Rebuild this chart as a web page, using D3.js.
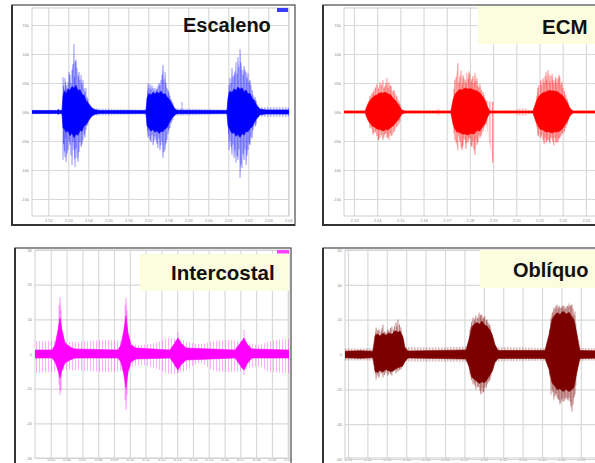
<!DOCTYPE html>
<html>
<head>
<meta charset="utf-8">
<script src="https://cdn.jsdelivr.net/npm/d3@7"></script>
<style>
  body { margin: 0; background: #fff; }
  svg { display: block; }
</style>
</head>
<body>
<svg width="595" height="463"></svg>
<script>
// envelope rows: [time, core top, core bottom]; spike rows: [time, top, bottom]

const escalenoYTicks = [15, 10, 5, 0, -5, -10, -15];
const escalenoYLabels = ['15k', '10k', '05k', '00k', '-05k', '-10k', '-15k'];
const escalenoXLabels = ['1:52', '1:53', '1:54', '1:55', '1:56', '1:57', '1:58', '1:59', '2:00', '2:01', '2:02', '2:03', '2:04'];
const escalenoEnvelope = [
    [0.00, 0.24, -0.24], [1.25, 0.24, -0.24], [1.32, 0.45, -0.40], [1.40, 0.24, -0.24], [1.50, 0.30, -0.30],
    [1.55, 2.76, -2.76], [1.62, 3.60, -2.90], [1.70, 3.10, -3.50], [1.80, 4.00, -3.20], [1.90, 3.70, -4.10],
    [2.00, 4.40, -3.60], [2.10, 4.10, -4.40], [2.20, 4.60, -3.80], [2.30, 3.60, -4.00], [2.40, 3.90, -3.20],
    [2.50, 3.00, -3.30], [2.60, 2.90, -2.40], [2.70, 2.00, -2.20], [2.85, 1.38, -1.38], [3.00, 0.69, -0.69],
    [3.15, 0.40, -0.40], [3.40, 0.26, -0.26], [5.65, 0.24, -0.24], [5.70, 0.30, -0.30],
    [5.75, 2.41, -2.41], [5.85, 3.20, -2.80], [5.95, 2.90, -3.30], [6.05, 3.40, -3.00], [6.15, 3.10, -3.50],
    [6.25, 3.50, -3.20], [6.35, 3.20, -3.70], [6.45, 3.60, -3.30], [6.55, 3.00, -3.40], [6.65, 3.20, -2.90],
    [6.75, 2.60, -2.70], [6.85, 2.30, -1.90], [7.00, 1.38, -1.03], [7.15, 0.52, -0.52], [7.25, 0.30, -0.30],
    [9.70, 0.26, -0.26], [9.75, 0.30, -0.30], [9.80, 2.41, -2.41], [9.90, 3.60, -3.10], [10.00, 3.30, -3.70],
    [10.10, 4.00, -3.50], [10.20, 3.70, -4.20], [10.30, 4.30, -3.80], [10.40, 3.90, -4.40], [10.50, 4.20, -3.70],
    [10.60, 3.50, -4.00], [10.70, 3.80, -3.30], [10.80, 3.10, -3.40], [10.90, 3.20, -2.80], [11.00, 2.40, -2.60],
    [11.10, 2.10, -1.90], [11.25, 1.03, -1.03], [11.40, 0.50, -0.48], [11.70, 0.36, -0.34], [12.85, 0.36, -0.36]
];
const escalenoNoise = [
    [0.00, 0.38, -0.38], [1.50, 0.38, -0.38], [3.20, 0.60, -0.60], [5.60, 0.45, -0.45], [7.30, 0.60, -0.60],
    [9.70, 0.45, -0.45], [11.40, 0.80, -0.80], [12.85, 0.80, -0.80]
];
const escalenoSpikes = [
    [1.55, 6.03, -8.28], [1.58, 4.50, -5.50], [1.62, 3.80, -6.80], [1.65, 5.86, -7.76], [1.68, 5.20, -4.60],
    [1.70, 4.66, -8.62], [1.75, 4.00, -7.20], [1.80, 5.17, -6.55], [1.85, 6.90, -5.00], [1.90, 6.38, -5.69],
    [1.95, 5.00, -7.50], [2.00, 7.24, -9.14], [2.05, 8.30, -5.20], [2.10, 11.72, -6.55], [2.12, 6.00, -8.00],
    [2.15, 8.62, -9.48], [2.20, 9.00, -6.20], [2.25, 7.59, -7.93], [2.30, 6.20, -8.60], [2.35, 6.90, -6.90],
    [2.40, 5.50, -5.20], [2.45, 6.38, -6.03], [2.50, 4.80, -5.60], [2.55, 5.52, -4.83], [2.60, 4.20, -3.80],
    [2.65, 3.40, -4.40], [2.70, 4.14, -3.10], [2.75, 2.60, -2.40], [2.80, 2.20, -2.00],
    [5.78, 3.60, -3.30], [5.80, 5.00, -4.48], [5.85, 4.20, -4.10], [5.90, 4.83, -4.83], [5.95, 3.90, -5.20],
    [6.00, 4.60, -4.00], [6.05, 4.14, -5.69], [6.10, 3.60, -5.00], [6.15, 4.20, -4.20], [6.20, 3.79, -4.83],
    [6.25, 4.00, -5.50], [6.30, 4.48, -6.21], [6.35, 5.00, -4.60], [6.40, 4.60, -6.60], [6.45, 5.52, -5.69],
    [6.50, 6.40, -5.00], [6.55, 8.10, -7.93], [6.60, 5.60, -6.90], [6.65, 6.90, -6.55], [6.70, 5.00, -5.40],
    [6.75, 4.14, -4.83], [6.80, 3.80, -3.80], [6.85, 3.30, -3.00], [6.90, 2.76, -2.76], [6.95, 2.20, -2.00],
    [7.05, 1.60, -1.40],
    [7.50, 1.72, -0.40],
    [9.82, 3.40, -3.80], [9.85, 4.66, -6.55], [9.90, 5.90, -5.00], [9.95, 5.00, -6.00], [10.00, 7.59, -7.41],
    [10.05, 6.00, -5.60], [10.10, 6.38, -7.93], [10.15, 7.00, -6.60], [10.20, 8.62, -8.79], [10.25, 6.60, -7.60],
    [10.30, 9.48, -8.28], [10.35, 7.80, -6.40], [10.40, 10.86, -11.38], [10.45, 8.50, -9.00], [10.50, 7.24, -9.66],
    [10.55, 6.40, -7.20], [10.60, 7.93, -8.28], [10.65, 7.20, -6.40], [10.70, 6.90, -9.14], [10.75, 5.80, -7.50],
    [10.80, 6.72, -6.55], [10.85, 5.20, -5.40], [10.90, 5.52, -5.69], [10.95, 4.60, -4.30], [11.00, 3.80, -4.60],
    [11.05, 2.93, -3.10], [11.15, 2.60, -2.50], [11.20, 2.00, -2.20], [11.30, 1.30, -1.20]
];

const ecmYTicks = [15, 10, 5, 0, -5, -10, -15];
const ecmYLabels = ['15k', '10k', '05k', '00k', '-05k', '-10k', '-15k'];
const ecmXLabels = ['2:13', '2:14', '2:15', '2:16', '2:17', '2:18', '2:19', '2:20', '2:21', '2:22', '2:23'];
const ecmEnvelope = [
    [0.00, 0.17, -0.17], [0.91, 0.17, -0.17], [1.03, 1.38, -1.38], [1.12, 2.00, -1.90], [1.21, 2.41, -2.41],
    [1.32, 2.80, -2.60], [1.42, 2.93, -2.93], [1.55, 3.30, -3.00], [1.68, 3.28, -3.28], [1.80, 3.40, -3.00],
    [1.90, 3.10, -3.10], [2.00, 3.00, -2.70], [2.11, 2.41, -2.41], [2.22, 2.00, -1.90], [2.33, 1.38, -1.38],
    [2.50, 0.34, -0.34], [2.63, 0.17, -0.17],
    [4.61, 0.17, -0.17], [4.70, 2.07, -2.07], [4.78, 3.00, -2.90], [4.87, 3.45, -3.45], [4.98, 3.90, -3.50],
    [5.09, 3.79, -3.79], [5.20, 4.10, -3.80], [5.34, 3.97, -3.97], [5.47, 4.00, -3.70], [5.60, 3.79, -3.79],
    [5.73, 3.60, -3.20], [5.86, 3.28, -3.28], [5.97, 2.70, -2.60], [6.08, 2.07, -2.07], [6.21, 0.69, -0.69],
    [6.29, 0.17, -0.17],
    [8.15, 0.17, -0.17], [8.28, 1.72, -1.72], [8.36, 2.40, -2.30], [8.45, 2.93, -2.93], [8.58, 3.30, -3.10],
    [8.71, 3.45, -3.45], [8.84, 3.70, -3.40], [8.97, 3.62, -3.62], [9.10, 3.60, -3.40], [9.22, 3.45, -3.45],
    [9.33, 3.10, -3.20], [9.44, 2.76, -2.76], [9.53, 2.30, -2.20], [9.61, 1.72, -1.72], [9.74, 0.69, -0.69],
    [9.87, 0.17, -0.17], [11.47, 0.17, -0.17]
];
const ecmNoise = [
    [0.00, 0.30, -0.30], [3.95, 0.30, -0.30], [4.05, 0.70, -0.70], [4.15, 0.30, -0.30], [7.35, 0.30, -0.30],
    [7.50, 0.60, -0.60], [7.85, 0.60, -0.60], [8.00, 0.30, -0.30], [11.47, 0.30, -0.30]
];
const ecmSpikes = [
    [1.08, 1.90, -1.80], [1.12, 2.76, -2.76], [1.18, 3.10, -2.90], [1.25, 3.40, -3.90], [1.29, 3.79, -3.62],
    [1.35, 4.20, -3.40], [1.42, 4.83, -4.14], [1.48, 4.00, -4.90], [1.55, 5.17, -4.48], [1.60, 4.60, -3.90],
    [1.68, 5.52, -4.83], [1.72, 4.10, -4.40], [1.77, 4.48, -3.79], [1.81, 5.00, -3.70], [1.85, 5.86, -4.48],
    [1.90, 4.10, -4.30], [1.94, 5.17, -4.83], [1.98, 4.60, -3.60], [2.03, 4.48, -4.14], [2.08, 3.60, -4.00],
    [2.16, 3.79, -3.45], [2.20, 3.20, -3.00], [2.28, 2.76, -2.59], [2.36, 2.00, -2.20], [2.42, 1.40, -1.60],
    [4.74, 4.00, -3.60], [4.78, 5.52, -4.83], [4.83, 6.00, -5.30], [4.91, 8.45, -6.55], [4.95, 5.00, -4.10],
    [5.00, 6.21, -5.17], [5.05, 7.20, -6.20], [5.09, 4.80, -6.60], [5.13, 6.38, -5.86], [5.17, 5.90, -4.60],
    [5.22, 5.52, -4.83], [5.26, 4.90, -6.40], [5.30, 6.72, -5.34], [5.35, 5.70, -5.20], [5.39, 7.00, -4.60],
    [5.43, 6.55, -4.48], [5.47, 5.20, -5.80], [5.52, 5.69, -6.03], [5.56, 6.20, -5.00], [5.60, 4.90, -6.40],
    [5.65, 6.72, -7.41], [5.69, 5.30, -4.80], [5.73, 5.86, -5.69], [5.78, 4.50, -5.20], [5.82, 4.20, -4.00],
    [5.86, 4.83, -4.48], [5.92, 3.80, -4.00], [5.99, 3.45, -3.45], [6.04, 2.90, -2.70], [6.12, 2.00, -2.00],
    [6.42, 1.72, -8.79],
    [8.31, 2.80, -2.60], [8.36, 4.14, -3.97], [8.40, 4.60, -4.20], [8.49, 5.52, -4.48], [8.53, 4.60, -4.00],
    [8.58, 5.86, -4.83], [8.63, 5.00, -5.60], [8.67, 6.20, -4.40], [8.71, 6.90, -5.34], [8.75, 5.40, -4.90],
    [8.79, 7.24, -4.83], [8.84, 6.50, -5.00], [8.88, 5.00, -5.40], [8.92, 6.21, -4.48], [8.97, 6.60, -4.60],
    [9.01, 5.52, -5.17], [9.05, 4.90, -5.80], [9.10, 5.60, -4.40], [9.14, 6.03, -5.34], [9.18, 4.90, -5.00],
    [9.22, 5.69, -5.34], [9.27, 6.40, -4.60], [9.31, 6.03, -4.48], [9.35, 4.70, -4.20], [9.40, 5.20, -3.60],
    [9.44, 4.14, -3.79], [9.50, 3.60, -3.40], [9.57, 2.93, -2.76], [9.62, 2.30, -2.20], [9.68, 1.60, -1.50]
];

const intercostalYTicks = [30, 20, 10, 0, -10, -20, -30];
const intercostalYLabels = ['30', '20', '10', '0', '-10', '-20', '-30'];
const intercostalXLabels = ['0:05', '0:06', '0:07', '0:08', '0:09', '0:10', '0:11', '0:12', '0:13', '0:14', '0:15', '0:16', '0:17', '0:18', '0:19', '0:20'];
const intercostalEnvelope = [
    [0.00, 1.15, -1.15], [1.08, 1.15, -1.15], [1.27, 2.59, -2.31], [1.46, 6.92, -4.61], [1.58, 10.37, -6.92],
    [1.71, 6.92, -4.61], [1.90, 3.17, -2.59], [2.22, 2.02, -1.73], [2.53, 1.44, -1.15], [5.25, 1.15, -1.15],
    [5.44, 2.59, -2.31], [5.63, 6.92, -6.05], [5.76, 10.95, -9.80], [5.89, 6.05, -5.19], [6.08, 2.59, -2.31],
    [6.39, 1.73, -1.44], [8.54, 1.15, -1.15], [8.73, 2.31, -2.31], [8.92, 3.75, -3.75], [9.05, 4.61, -4.61],
    [9.24, 3.17, -3.17], [9.56, 1.73, -1.73], [12.66, 1.15, -1.15], [12.85, 2.31, -2.31], [13.10, 3.75, -4.03],
    [13.23, 4.61, -4.61], [13.42, 2.88, -2.88], [13.73, 1.44, -1.15], [16.08, 1.15, -1.15]
];
// faint periodic artifact band around the baseline
const intercostalArtifact = [
    [0.00, 3.75, -5.48], [0.95, 3.75, -5.19], [2.22, 3.46, -4.61], [3.48, 3.75, -4.90], [4.75, 4.03, -5.19],
    [5.70, 3.46, -4.61], [6.65, 2.59, -3.17], [7.59, 3.17, -4.03], [8.54, 4.61, -5.76], [9.49, 3.75, -4.90],
    [10.44, 2.88, -2.59], [11.39, 3.75, -4.90], [12.34, 4.03, -5.19], [13.29, 3.46, -4.61], [14.11, 2.59, -3.46],
    [14.87, 3.75, -5.19], [16.08, 4.32, -5.48]
];
const intercostalSpikes = [
    [1.52, 14.12, -8.93], [1.58, 16.43, -11.82], [1.65, 12.68, -10.37],
    [5.70, 14.12, -13.26], [5.76, 16.14, -16.14], [5.82, 12.68, -11.82],
    [9.05, 6.34, -5.48], [13.23, 6.92, -6.05]
];

const obliquoYTicks = [60, 40, 20, 0, -20, -40, -60];
const obliquoYLabels = ['60', '40', '20', '0', '-20', '-40', '-60'];
const obliquoXLabels = ['0:31', '0:32', '0:33', '0:34', '0:35', '0:36', '0:37', '0:38', '0:39', '0:40', '0:41', '0:42', '0:43'];
const obliquoEnvelope = [
    [0.00, 1.9, -1.9], [0.77, 2.2, -2.2], [1.44, 1.9, -1.9], [1.55, 10.9, -9.8], [1.68, 11.8, -10.4],
    [1.80, 10.6, -9.2], [1.96, 12.2, -10.0], [2.11, 11.0, -8.6], [2.25, 12.4, -9.4], [2.42, 11.6, -9.8],
    [2.58, 13.6, -8.4], [2.73, 12.8, -7.5], [2.85, 13.4, -7.2], [2.99, 9.8, -6.3], [3.09, 4.0, -4.0],
    [3.25, 2.0, -2.0], [4.90, 2.3, -2.3], [6.24, 2.6, -2.6], [6.39, 8.6, -6.9], [6.55, 16.0, -13.2],
    [6.68, 17.6, -14.2], [6.80, 18.4, -15.5], [6.93, 17.4, -16.6], [7.06, 19.2, -15.6], [7.19, 17.0, -16.2],
    [7.32, 16.4, -14.4], [7.45, 14.2, -12.0], [7.58, 11.6, -9.8], [7.73, 5.7, -4.6], [7.89, 2.3, -2.3],
    [10.31, 2.3, -2.3], [10.52, 11.5, -8.6], [10.67, 20.0, -16.1], [10.80, 22.4, -18.0], [10.93, 24.0, -20.1],
    [11.08, 23.0, -19.6], [11.24, 24.8, -21.3], [11.40, 23.2, -20.0], [11.55, 24.2, -21.3], [11.68, 22.0, -20.2],
    [11.80, 20.0, -19.0], [11.96, 11.5, -9.8], [12.11, 2.3, -2.3], [13.66, 1.9, -1.9]
];
const obliquoNoise = [
    [0.00, 3.4, -3.4], [1.40, 3.6, -3.4], [3.20, 4.2, -4.0], [4.90, 4.0, -4.0], [6.30, 4.4, -4.2],
    [7.90, 4.2, -4.0], [10.30, 3.8, -3.6], [12.20, 3.8, -3.6], [13.66, 3.4, -3.4]
];
const obliquoSpikes = [
    [1.58, 12.5, -11.0], [1.60, 15.5, -14.4], [1.68, 13.8, -12.0], [1.75, 14.4, -13.2], [1.85, 13.0, -11.0],
    [1.90, 15.0, -10.5], [1.96, 17.2, -13.2], [2.02, 13.2, -11.8], [2.11, 12.8, -10.6], [2.22, 14.4, -12.1],
    [2.30, 13.5, -10.3], [2.35, 15.2, -11.3], [2.42, 16.1, -12.1], [2.50, 14.0, -9.6], [2.55, 16.5, -9.3],
    [2.63, 18.4, -10.9], [2.68, 15.6, -8.8], [2.73, 20.1, -9.8], [2.80, 17.2, -8.9], [2.89, 15.5, -8.6],
    [2.95, 11.2, -7.4], [3.02, 8.0, -5.6],
    [6.44, 14.4, -11.5], [6.48, 16.0, -12.8], [6.52, 18.5, -14.4], [6.60, 21.3, -17.2], [6.65, 19.2, -16.0],
    [6.70, 20.7, -18.0], [6.75, 22.4, -20.1], [6.85, 21.0, -18.4], [6.91, 24.1, -19.0], [6.96, 22.3, -21.0],
    [7.01, 23.0, -23.0], [7.06, 22.5, -19.5], [7.11, 20.6, -22.0], [7.16, 21.3, -21.3], [7.21, 22.0, -18.5],
    [7.27, 19.5, -19.4], [7.32, 20.1, -17.2], [7.37, 18.4, -16.0], [7.42, 17.5, -15.6], [7.47, 16.7, -14.4],
    [7.52, 14.8, -12.6], [7.62, 10.0, -9.0],
    [10.56, 14.5, -12.5], [10.62, 21.3, -23.0], [10.67, 23.5, -20.0], [10.72, 24.6, -21.8], [10.77, 27.0, -25.9],
    [10.82, 26.1, -23.8], [10.88, 27.8, -22.5], [10.93, 28.7, -24.7], [10.98, 26.4, -25.6], [11.03, 28.0, -26.2],
    [11.08, 27.0, -28.7], [11.13, 26.6, -27.6], [11.19, 27.5, -25.2], [11.24, 28.2, -27.0], [11.29, 27.8, -26.8],
    [11.34, 26.0, -24.5], [11.39, 27.0, -25.9], [11.44, 28.0, -25.0], [11.50, 27.4, -26.4], [11.55, 29.3, -24.7],
    [11.60, 27.6, -27.0], [11.65, 28.4, -30.0], [11.70, 28.7, -32.8], [11.75, 26.5, -29.0], [11.81, 22.5, -24.6],
    [11.86, 24.7, -23.0], [11.90, 18.0, -18.0]
];

const PANELS = [
    {
        id: 'esc', color: '#0000ff', title: 'Escaleno', titleX: 183, titleY: 31.5, titleSize: 20,
        box: null, legend: { x: 277, y: 8, w: 11, h: 4, fill: '#3a3aff' },
        frame: { x: 12, y: 5, w: 283, h: 220 },
        plot: { left: 32, right: 289, top: 8, bottom: 216 }, gridTop: 25, gridBottom: 199,
        tEnd: 12.85, xFirst: 0.815, xPad: 3,
        yTicks: escalenoYTicks, yLabels: escalenoYLabels, xLabels: escalenoXLabels,
        envelope: escalenoEnvelope, spikes: escalenoSpikes, noise: escalenoNoise
    },
    {
        id: 'ecm', color: '#ff0000', title: 'ECM', titleX: 542, titleY: 34, titleSize: 20.5,
        box: { x: 478, y: 6, w: 130, h: 38 }, legend: null,
        frame: { x: 323, y: 5, w: 300, h: 220 },
        plot: { left: 344, right: 610, top: 8, bottom: 216 }, gridTop: 25, gridBottom: 199,
        tEnd: 11.47, xFirst: 0.43, xPad: 3, extraGrid: [11.43],
        yTicks: ecmYTicks, yLabels: ecmYLabels, xLabels: ecmXLabels,
        envelope: ecmEnvelope, spikes: ecmSpikes, noise: ecmNoise
    },
    {
        id: 'ic', color: '#ff00ff', title: 'Intercostal', titleX: 171, titleY: 280, titleSize: 20.5,
        box: { x: 140, y: 254, w: 149, h: 37 }, legend: { x: 277, y: 250, w: 12, h: 3.5, fill: '#ff40ff' },
        frame: { x: 15, y: 248, w: 276, h: 230 },
        plot: { left: 35, right: 289, top: 250, bottom: 458 }, gridTop: 250, gridBottom: 458,
        tEnd: 16.08, xFirst: 1, xPad: 0.5,
        yTicks: intercostalYTicks, yLabels: intercostalYLabels, xLabels: intercostalXLabels,
        envelope: intercostalEnvelope, spikes: intercostalSpikes, artifact: intercostalArtifact
    },
    {
        id: 'obl', color: '#7d0000', title: 'Oblíquo', titleX: 513, titleY: 276.5, titleSize: 20,
        box: { x: 480, y: 250, w: 130, h: 38 }, legend: null,
        frame: { x: 323, y: 248, w: 300, h: 230 },
        plot: { left: 345, right: 610, top: 250, bottom: 458 }, gridTop: 250, gridBottom: 459,
        tEnd: 13.66, xFirst: 0.155, xPad: 0.5,
        yTicks: obliquoYTicks, yLabels: obliquoYLabels, xLabels: obliquoXLabels,
        envelope: obliquoEnvelope, spikes: obliquoSpikes, noise: obliquoNoise
    }
];

const svg = d3.select('svg');
const defs = svg.append('defs');

svg.append('rect').attr('width', 595).attr('height', 463).attr('fill', '#fff');

// splits spikes into bursts so the faint fringe doesn't bridge the gaps
function groupSpikes(spikes) {
    const groups = [];
    let current = [];
    spikes.forEach((s, i) => {
        if (i > 0 && s[0] - spikes[i - 1][0] > 0.4) {
            groups.push(current);
            current = [];
        }
        current.push(s);
    });
    if (current.length) groups.push(current);
    return groups;
}

function drawPanel(p) {
    const x = d3.scaleLinear().domain([0, p.tEnd]).range([p.plot.left, p.plot.right]);
    const y = d3.scaleLinear()
        .domain([p.yTicks[p.yTicks.length - 1], p.yTicks[0]])
        .range([p.gridBottom, p.gridTop]);

    const g = svg.append('g');

    // outer frame
    g.append('rect')
        .attr('x', p.frame.x).attr('y', p.frame.y)
        .attr('width', p.frame.w).attr('height', p.frame.h)
        .attr('fill', '#fff').attr('stroke', '#4a4a4a').attr('stroke-width', 1.2);
    g.append('path')
        .attr('d', `M${p.frame.x},${p.frame.y} V${p.frame.y + p.frame.h} H${p.frame.x + p.frame.w}`)
        .attr('fill', 'none').attr('stroke', '#333').attr('stroke-width', 2);

    const plotW = p.plot.right - p.plot.left;
    const plotH = p.plot.bottom - p.plot.top;
    const xTicks = p.xLabels.map((d, i) => p.xFirst + i);

    const xAxis = g.append('g')
        .attr('transform', `translate(0,${p.plot.bottom})`)
        .call(d3.axisBottom(x)
            .tickValues(xTicks)
            .tickSize(-plotH)
            .tickPadding(p.xPad)
            .tickFormat((d, i) => p.xLabels[i]));

    const yAxis = g.append('g')
        .attr('transform', `translate(${p.plot.left},0)`)
        .call(d3.axisLeft(y)
            .tickValues(p.yTicks)
            .tickSize(-plotW)
            .tickPadding(3)
            .tickFormat((d, i) => p.yLabels[i]));

    [xAxis, yAxis].forEach(a => {
        a.select('.domain').remove();
        a.selectAll('.tick line').attr('stroke', '#d9d9d9').attr('stroke-width', 1.2);
        a.selectAll('.tick text')
            .attr('fill', '#8a8a8a')
            .style('font-family', 'Liberation Sans, Arial, sans-serif')
            .style('font-size', '4px');
    });

    g.append('rect')
        .attr('x', p.plot.left).attr('y', p.plot.top)
        .attr('width', plotW).attr('height', plotH)
        .attr('fill', 'none').attr('stroke', '#cfcfcf').attr('stroke-width', 1);

    defs.append('clipPath').attr('id', `clip-${p.id}`)
        .append('rect')
        .attr('x', p.plot.left).attr('y', p.plot.top)
        .attr('width', plotW).attr('height', plotH);

    const hatch = defs.append('pattern')
        .attr('id', `hatch-${p.id}`)
        .attr('width', 1.5).attr('height', 6)
        .attr('patternUnits', 'userSpaceOnUse');
    hatch.append('rect')
        .attr('width', 0.7).attr('height', 6)
        .attr('fill', p.color).attr('opacity', 0.35);

    const thin = defs.append('pattern')
        .attr('id', `thin-${p.id}`)
        .attr('width', 3).attr('height', 6)
        .attr('patternUnits', 'userSpaceOnUse');
    thin.append('rect')
        .attr('width', 0.7).attr('height', 6)
        .attr('fill', p.color).attr('opacity', 0.45);

    const sig = g.append('g').attr('clip-path', `url(#clip-${p.id})`);

    const band = d3.area()
        .x(d => x(d[0]))
        .y0(d => y(d[2]))
        .y1(d => y(d[1]));

    if (p.artifact) {
        sig.append('path')
            .datum(p.artifact)
            .attr('d', band.curve(d3.curveMonotoneX))
            .attr('fill', `url(#thin-${p.id})`);
    }

    if (p.noise) {
        sig.append('path')
            .datum(p.noise)
            .attr('d', band.curve(d3.curveLinear))
            .attr('fill', `url(#hatch-${p.id})`);
    }

    groupSpikes(p.spikes).forEach(gr => {
        sig.append('path')
            .datum(gr)
            .attr('d', band.curve(d3.curveLinear))
            .attr('fill', `url(#hatch-${p.id})`);
    });

    sig.append('path')
        .datum(p.envelope)
        .attr('d', band.curve(d3.curveLinear))
        .attr('fill', p.color)
        .attr('stroke', p.color)
        .attr('stroke-width', 0.6);

    sig.selectAll('.spike')
        .data(p.spikes)
        .enter()
        .append('line')
        .classed('spike', true)
        .attr('x1', d => x(d[0])).attr('x2', d => x(d[0]))
        .attr('y1', d => y(d[1])).attr('y2', d => y(d[2]))
        .attr('stroke', p.color)
        .attr('stroke-width', 0.7)
        .attr('opacity', 0.55);

    if (p.box) {
        g.append('rect')
            .attr('x', p.box.x).attr('y', p.box.y)
            .attr('width', p.box.w).attr('height', p.box.h)
            .attr('fill', '#fcfcdf');
    }
    if (p.legend) {
        g.append('rect')
            .attr('x', p.legend.x).attr('y', p.legend.y)
            .attr('width', p.legend.w).attr('height', p.legend.h)
            .attr('fill', p.legend.fill);
    }

    g.append('text')
        .attr('x', p.titleX).attr('y', p.titleY)
        .attr('fill', '#111')
        .style('font-family', 'Liberation Sans, Arial, sans-serif')
        .style('font-weight', 'bold')
        .style('font-size', `${p.titleSize}px`)
        .text(p.title);
}

PANELS.forEach(drawPanel);
</script>
</body>
</html>
